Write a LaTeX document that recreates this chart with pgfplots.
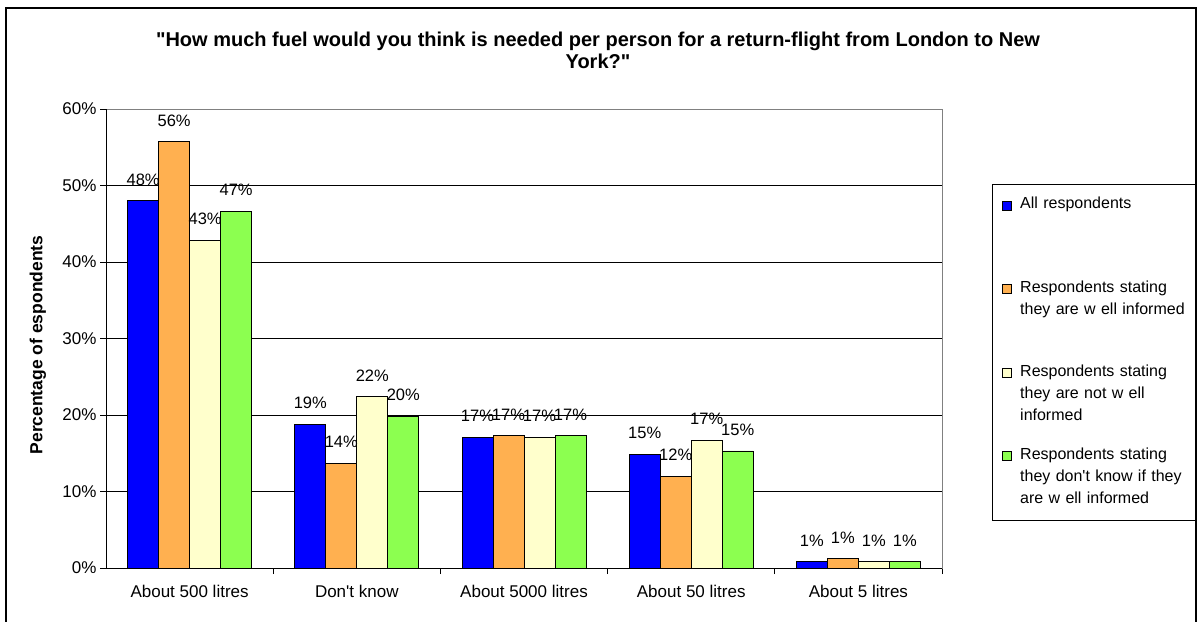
\documentclass[border=0pt]{standalone}
\usepackage{pgfplots}
\pgfplotsset{compat=1.18}
\usepackage{fontspec}
\setmainfont{Liberation Sans}
\definecolor{cblue}{HTML}{0000FF}
\definecolor{corange}{HTML}{FFB050}
\definecolor{cyellow}{HTML}{FFFFCC}
\definecolor{cgreen}{HTML}{8CFF50}
\begin{document}
\begin{tikzpicture}
\path[use as bounding box] (0,0) rectangle (1198pt,621pt);
\draw[line width=1.2pt] (6pt,-5pt) rectangle (1196pt,613pt);
\node[font=\fontsize{20}{22}\selectfont\bfseries, align=center] at (598pt,571pt) {\textquotedbl How much fuel would you think is needed per person for a return-flight from London to New\\York?\textquotedbl};
\node[rotate=90, font=\fontsize{17.5}{20}\selectfont\bfseries] at (38pt,276pt) {Percentage of espondents};
\begin{axis}[
  at={(106pt,53pt)}, anchor=south west, scale only axis,
  width=836pt, height=459pt,
  /pgf/number format/assume math mode=true,
  ybar=0pt, bar width=31pt,
  ymin=0, ymax=60, xmin=-0.5, xmax=4.5,
  ytick={0,10,...,60},
  yticklabel={\pgfmathprintnumber{\tick}\%},
  ymajorgrids, grid style={black, line width=0.6pt},
  xtick={0.5,1.5,2.5,3.5,4.5}, xticklabels={},
  extra x ticks={0,1,2,3,4},
  extra x tick labels={About 500 litres,Don\textquotesingle t know,About 5000 litres,About 50 litres,About 5 litres},
  extra x tick style={major tick length=0pt, grid=none},
  tick pos=left, tick align=outside, major tick length=6pt,
  tick style={black, line width=0.8pt},
  axis line style={gray, line width=0.8pt},
  ticklabel style={font=\fontsize{17}{20}\selectfont},
  xticklabel style={yshift=-14pt},
  nodes near coords={\pgfmathprintnumber[fixed,precision=0]{\pgfplotspointmeta}\%},
  every node near coord/.append style={font=\fontsize{16.5}{19}\selectfont, anchor=south, inner sep=0pt, yshift=15pt},
  legend style={at={(1.0598,0.8366)}, anchor=north west, draw=black, line width=0.8pt, fill=white,
    inner xsep=10pt, inner ysep=13pt, font=\fontsize{16}{22}\selectfont, cells={anchor=base west},
    row sep=0pt, nodes={text width=165pt, align=left, inner xsep=0pt, inner ysep=0pt},
    /tikz/every odd column/.append style={column sep=8pt}},
  legend image code/.code={\draw[#1, draw=black, line width=0.8pt] (0pt,-1pt) rectangle (9pt,8pt);},
]
\addplot[fill=cblue, draw=black, line width=0.9pt] coordinates {(0,48.0) (1,18.8) (2,17.1) (3,14.9) (4,0.8)};
\addplot[fill=corange, draw=black, line width=0.9pt] coordinates {(0,55.7) (1,13.7) (2,17.3) (3,12.0) (4,1.2)};
\addplot[fill=cyellow, draw=black, line width=0.9pt] coordinates {(0,42.8) (1,22.4) (2,17.1) (3,16.7) (4,0.8)};
\addplot[fill=cgreen, draw=black, line width=0.9pt] coordinates {(0,46.6) (1,19.8) (2,17.3) (3,15.3) (4,0.8)};
\draw[black, line width=1pt] (axis cs:-0.5,0) -- (axis cs:-0.5,60);
\draw[black, line width=1pt] (axis cs:-0.5,0) -- (axis cs:4.5,0);
\addlegendentry[text depth=72pt]{All respondents}
\addlegendentry[text depth=72pt]{Respondents stating\\\mbox{they are w ell informed}}
\addlegendentry[text depth=72pt]{Respondents stating\\they are not w ell\\informed}
\addlegendentry[text depth=48pt]{Respondents stating\\\mbox{they don\textquotesingle t know if they}\\are w ell informed}
\end{axis}
\end{tikzpicture}
\end{document}
